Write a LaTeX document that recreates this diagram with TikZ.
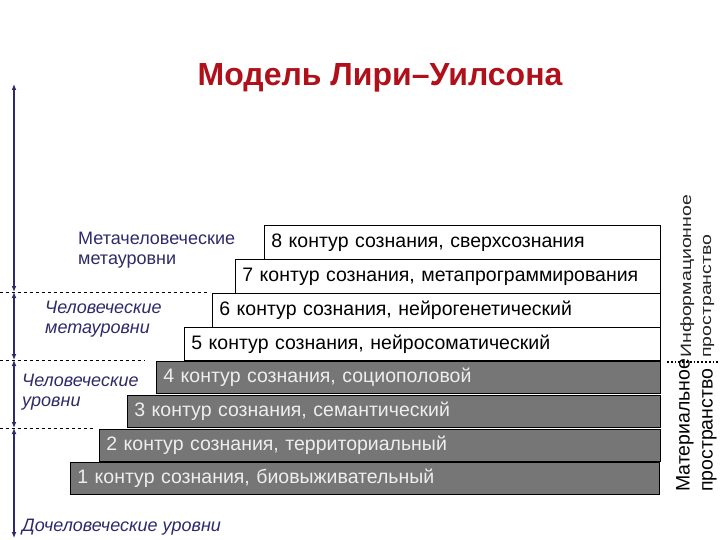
\documentclass[tikz,border=0pt]{standalone}
\usepackage{fontspec}
\setmainfont{Liberation Sans}
\usetikzlibrary{arrows.meta}
\definecolor{navy}{HTML}{2E2A6B}
\definecolor{titlered}{HTML}{B0101A}
\definecolor{boxgray}{HTML}{767676}
\definecolor{lighttext}{HTML}{EEEEEE}
\tikzset{
  wbox/.style={draw=black, line width=0.8pt, fill=white, anchor=north west, inner xsep=7pt, inner ysep=0pt, align=left, font=\fontsize{19.5}{21}\selectfont, text=black},
  gbox/.style={draw=black, line width=0.8pt, fill=boxgray, anchor=north west, inner xsep=7pt, inner ysep=0pt, align=left, font=\fontsize{19.5}{21}\selectfont, text=lighttext},
  lvl/.style={text=navy, align=left, anchor=north west, inner sep=0pt, font=\fontsize{18}{20}\selectfont},
  ilvl/.style={lvl, font=\fontsize{18}{20}\selectfont\itshape},
  axis/.style={draw=navy, line width=1.6pt, {Latex[length=6pt,width=5pt]}-{Latex[length=6pt,width=5pt]}},
  sep/.style={draw=black, dashed, line width=0.6pt},
  rot/.style={rotate=90, anchor=north west, inner sep=0pt, align=left}
}
\begin{document}
\begin{tikzpicture}[x=1pt,y=-1pt]
\useasboundingbox (0,0) rectangle (720,540);
\fill[white] (0,0) rectangle (720,540);

% title
\node (title) [text=titlered, font=\fontsize{32}{36}\selectfont\bfseries] at (380,78) {Модель Лири–Уилсона};

% boxes
\node (b8) [wbox, text width=382pt, minimum height=34pt] at (264,225) {8 контур сознания, сверхсознания};
\node (b7) [wbox, text width=411pt, minimum height=34pt] at (235,259) {7 контур сознания, метапрограммирования};
\node (b6) [wbox, text width=434pt, minimum height=34pt] at (212,293) {6 контур сознания, нейрогенетический};
\node (b5) [wbox, text width=462pt, minimum height=33pt] at (184,327) {5 контур сознания, нейросоматический};
\node (b4) [gbox, text width=490pt, minimum height=32pt] at (156,361) {4 контур сознания, социополовой};
\node (b3) [gbox, text width=519pt, minimum height=32pt] at (127,395) {3 контур сознания, семантический};
\node (b2) [gbox, text width=547pt, minimum height=32pt] at (99,429) {2 контур сознания, территориальный};
\node (b1) [gbox, text width=575pt, minimum height=32pt] at (70,462) {1 контур сознания, биовыживательный};

% level axis
\coordinate (a0) at (14,84);
\coordinate (a1) at (14,292);
\coordinate (a2) at (14,360);
\coordinate (a3) at (14,428);
\coordinate (a4) at (14,538);
\draw[axis] (a0) -- (a1);
\draw[axis] (a1) -- (a2);
\draw[axis] (a2) -- (a3);
\draw[axis] (a3) -- (a4);

% dashed separators
\coordinate (d1) at (0,292);
\coordinate (d2) at (0,360);
\coordinate (d3) at (0,428);
\draw[sep] (d1) -- ([xshift=-2pt]b6.west |- d1);
\draw[sep] (d2) -- ([xshift=-11pt]b4.west |- d2);
\draw[sep] (d3) -- ([xshift=-4pt]b2.west |- d3);

% level labels
\node (l1) [lvl] at (78,232) {Метачеловеческие\\метауровни};
\node (l2) [ilvl] at (45,301) {Человеческие\\метауровни};
\node (l3) [ilvl] at (22,374) {Человеческие\\уровни};
\node (l4) [ilvl, anchor=west] at (22,527) {Дочеловеческие уровни};

% right side
\coordinate (s1) at (667,362);
\coordinate (s2) at (720,362);
\draw[black, dotted, line width=1.8pt] (s1) -- (s2);
\node (mat) [rot, font=\fontsize{19.5}{23}\selectfont] at (676,492) {Материальное\\пространство};
\node (inf) [rot, xscale=1.3, font=\fontsize{15}{20}\selectfont, text=black!85] at (680,358) {Информационное\\пространство};
\end{tikzpicture}
\end{document}
